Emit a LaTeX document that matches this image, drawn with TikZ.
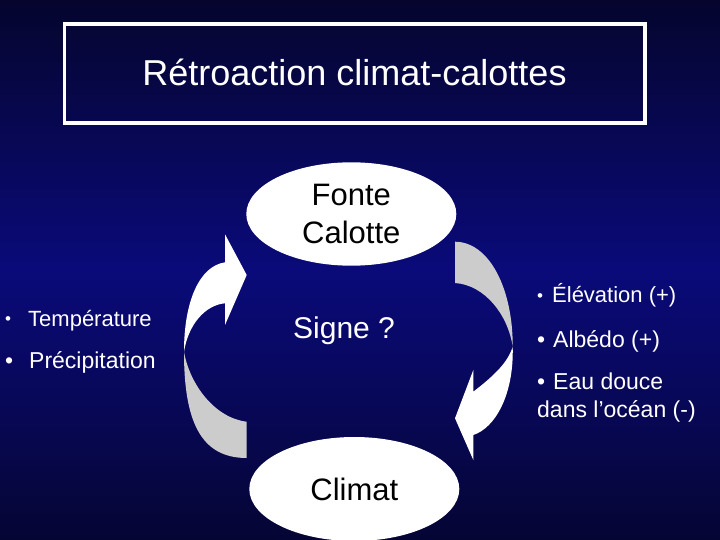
\documentclass[tikz,border=0pt]{standalone}
\usepackage{fontspec}
\setmainfont{Liberation Sans}
\usetikzlibrary{shapes.geometric}
\definecolor{bgtop}{RGB}{5,5,46}
\definecolor{bgmid}{RGB}{10,10,122}
\definecolor{bgbot}{RGB}{5,5,52}
\definecolor{ribbon}{RGB}{204,204,204}
\newcommand{\fs}[1]{\fontsize{#1}{1.18\dimexpr #1pt\relax}\selectfont}
\newcommand{\smallbul}{\raisebox{1.5pt}{\fontsize{17}{17}\selectfont •}}
\begin{document}
\begin{tikzpicture}[x=1pt,y=-1pt,
  bubble/.style={ellipse,fill=white,draw=none,inner sep=0pt,text=black,align=center},
  lbl/.style={text=white,inner sep=0pt,anchor=base west},
  frontface/.style={fill=white,draw=none},
  backface/.style={fill=ribbon,draw=none}]
\useasboundingbox (0,0) rectangle (720,540);
\shade[top color=bgtop,bottom color=bgmid] (0,0) rectangle (720,270);
\shade[top color=bgmid,bottom color=bgbot] (0,270) rectangle (720,540);

% title box
\node[draw=white,line width=3.7pt,minimum width=580.5pt,minimum height=99pt,inner sep=0pt] (titlebox) at (354.75,73.5) {};
\node[text=white,inner sep=0pt,anchor=base] (title) at (354.5,85.5) {\fs{36}Rétroaction climat-calottes};

% ellipses
\node[bubble,minimum width=210pt,minimum height=103.4pt,font={\fontsize{31}{37.5}\selectfont}] (fonte) at (351.3,214) {Fonte\\Calotte};
\node[bubble,minimum width=210pt,minimum height=104pt,font={\fontsize{31}{37.5}\selectfont}] (climat) at (354.3,489) {Climat};

% centre text
\node[lbl] (signe) at (293,338.3) {\fs{30}Signe ?};

% left curved arrow (up)
\fill[backface] (246.7,458) .. controls (200,458) and (184,420) .. (184,352)
  .. controls (190,385) and (215,418) .. (246.7,421.7) -- cycle;
\fill[frontface] (184,352) .. controls (184,300) and (200,266) .. (225,262.3)
  -- (225,234.3) -- (246.7,275) -- (225,325) -- (225,303.3)
  .. controls (205,305) and (188,325) .. (184,352) -- cycle;

% right curved arrow (down)
\fill[backface] (455,241.7) .. controls (490,242) and (513,290) .. (512.7,346.7)
  .. controls (508,315) and (485,285) .. (455,283) -- cycle;
\fill[frontface] (512.7,346.7) .. controls (514,395) and (495,428) .. (473.3,435)
  -- (473.3,460) -- (455,418.3) -- (473.3,370) -- (473.3,391.7)
  .. controls (495,375) and (508,362) .. (512.7,346.7) -- cycle;

% left bullets
\node[lbl] (temp) at (5,326) {\fs{22}\makebox[23pt][l]{\smallbul}Température};
\node[lbl] (precip) at (5,368.5) {\fs{23}\makebox[24pt][l]{•}Précipitation};

% right bullets
\node[lbl] (elev) at (537,302.5) {\fs{22}\makebox[15pt][l]{\smallbul}Élévation (+)};
\node[lbl] (albedo) at (537,347.5) {\fs{23}\makebox[16pt][l]{•}Albédo (+)};
\node[lbl] (eau) at (537,389) {\fs{23}\makebox[16pt][l]{•}Eau douce};
\node[lbl] (ocean) at (537,417) {\fs{23}dans l’océan (-)};
\end{tikzpicture}
\end{document}
